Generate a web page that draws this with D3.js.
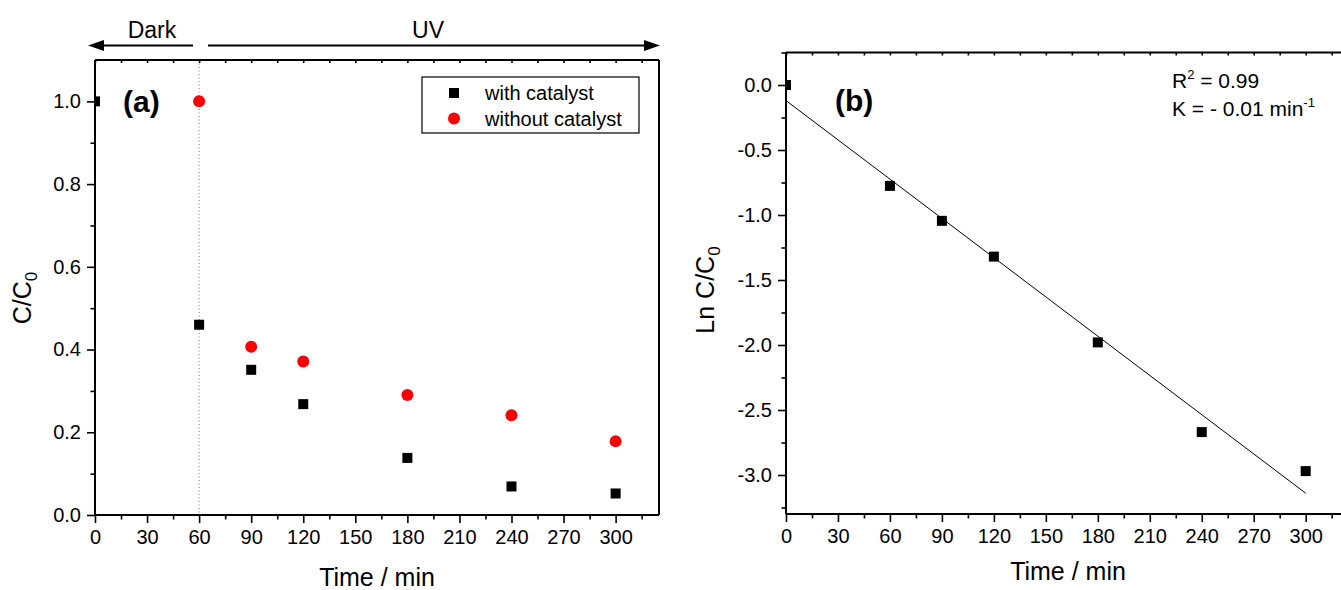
<!DOCTYPE html>
<html>
<head>
<meta charset="utf-8">
<script src="https://cdn.jsdelivr.net/npm/d3@7"></script>
<style>
  html, body { margin: 0; padding: 0; background: #fff; }
  svg { display: block; font-family: "Liberation Sans", Arial, sans-serif; }
</style>
</head>
<body>
<svg id="chart" width="1341" height="590"></svg>
<script>
// Sampling times (min)
const times = [0, 60, 90, 120, 180, 240, 300];
// Panel (a): normalised concentration C/C0
const withCatalyst = [1.0, 0.46, 0.351, 0.268, 0.138, 0.069, 0.052];
const withoutTimes = [60, 90, 120, 180, 240, 300];
const withoutCatalyst = [1.0, 0.407, 0.371, 0.290, 0.241, 0.178];
// Panel (b): ln(C/C0) for the catalysed run and its linear fit
const lnValues = [0, -0.776, -1.045, -1.32, -1.98, -2.67, -2.97];
const fitTimes = [0, 300];
const fitValues = [-0.12, -3.14];
// Tick labels
const xTicks = [0, 30, 60, 90, 120, 150, 180, 210, 240, 270, 300];
const xMinor = [15, 45, 75, 105, 135, 165, 195, 225, 255, 285, 315];
const yTicksA = [0, 0.2, 0.4, 0.6, 0.8, 1.0];
const yMinorA = [0.1, 0.3, 0.5, 0.7, 0.9];
const yTicksB = [0, -0.5, -1.0, -1.5, -2.0, -2.5, -3.0];
const yMinorB = [0.25, -0.25, -0.75, -1.25, -1.75, -2.25, -2.75, -3.25];
const legendLabels = ["with catalyst", "without catalyst"];

const svg = d3.select("#chart");
svg.append("rect").attr("width", 1341).attr("height", 590).attr("fill", "#fff");

const TICK_FONT = 20;
const MAJOR = 8, MINOR = 4.5;
// one decimal, plain hyphen for negatives
const fmtY = v => d3.format(".1f")(v).replace("\u2212", "-");

function styleAxis(g) {
  g.select(".domain").remove();
  g.selectAll(".tick line").attr("stroke", "#000").attr("stroke-width", 1.6);
  g.selectAll(".tick text").attr("font-size", TICK_FONT).attr("fill", "#000")
    .attr("font-family", "Liberation Sans, Arial, sans-serif");
}

function drawFrame(x, y, opts) {
  const [x0, x1] = x.range();
  const [y0, y1] = y.range();
  const g = svg.append("g");
  // minor ticks
  g.append("g").attr("transform", `translate(0,${y0})`)
    .call(d3.axisBottom(x).tickValues(opts.xMinor.filter(v => v <= x.domain()[1])).tickSize(MINOR).tickFormat(""))
    .call(styleAxis);
  g.append("g").attr("transform", `translate(${x0},0)`)
    .call(d3.axisLeft(y).tickValues(opts.yMinor).tickSize(MINOR).tickFormat(""))
    .call(styleAxis);
  // major ticks with labels
  g.append("g").attr("transform", `translate(0,${y0})`)
    .call(d3.axisBottom(x).tickValues(opts.xTicks).tickSize(MAJOR).tickPadding(7).tickFormat(d3.format("d")))
    .call(styleAxis);
  g.append("g").attr("transform", `translate(${x0},0)`)
    .call(d3.axisLeft(y).tickValues(opts.yTicks).tickSize(MAJOR).tickPadding(6).tickFormat(fmtY))
    .call(styleAxis);
  // top ticks (small, inward)
  g.append("g").attr("transform", `translate(0,${y1})`)
    .call(d3.axisTop(x).tickValues(opts.xTicks.concat(opts.xMinor).filter(v => v <= x.domain()[1])).tickSize(-3).tickFormat(""))
    .call(styleAxis);
  // frame lines
  const frame = g.append("g").attr("stroke", "#000").attr("stroke-width", 2).attr("fill", "none");
  frame.append("line").attr("x1", x0).attr("x2", x1).attr("y1", y0).attr("y2", y0);
  frame.append("line").attr("x1", x0).attr("x2", x0).attr("y1", y0).attr("y2", y1);
  frame.append("line").attr("x1", x0).attr("x2", x1).attr("y1", y1).attr("y2", y1);
  frame.append("line").attr("x1", x1).attr("x2", x1).attr("y1", y0).attr("y2", y1);
}

function clipFor(id, x, y) {
  const [x0, x1] = x.range();
  const [y0, y1] = y.range();
  svg.append("clipPath").attr("id", id).append("rect")
    .attr("x", x0).attr("y", y1).attr("width", x1 - x0).attr("height", y0 - y1);
  return `url(#${id})`;
}

/* ---------------- Panel (a) ---------------- */
const xA = d3.scaleLinear().domain([0, 325]).range([95, 659]);
const yA = d3.scaleLinear().domain([0, 1.1]).range([515, 60]);
const clipA = clipFor("clipA", xA, yA);

// dark / UV boundary
svg.append("line")
  .attr("x1", xA(60)).attr("x2", xA(60)).attr("y1", yA(1.1)).attr("y2", yA(0))
  .attr("stroke", "#777").attr("stroke-width", 1).attr("stroke-dasharray", "1,2.5");

drawFrame(xA, yA, { xTicks, xMinor, yTicks: yTicksA, yMinor: yMinorA });

const ptsA = svg.append("g").attr("clip-path", clipA);
ptsA.selectAll("rect.wc").data(times.map((t, i) => [t, withCatalyst[i]])).join("rect")
  .attr("x", d => xA(d[0]) - 5).attr("y", d => yA(d[1]) - 5)
  .attr("width", 10).attr("height", 10).attr("fill", "#000");
ptsA.selectAll("circle.nc").data(withoutTimes.map((t, i) => [t, withoutCatalyst[i]])).join("circle")
  .attr("cx", d => xA(d[0])).attr("cy", d => yA(d[1])).attr("r", 6).attr("fill", "#f00");

// panel tag
svg.append("text").attr("x", 123).attr("y", 112).attr("font-size", 30).attr("font-weight", "bold").text("(a)");

// legend
const leg = svg.append("g");
leg.append("rect").attr("x", 422).attr("y", 77).attr("width", 217).attr("height", 56)
  .attr("fill", "#fff").attr("stroke", "#000").attr("stroke-width", 1.2);
leg.append("rect").attr("x", 449).attr("y", 88).attr("width", 10).attr("height", 10).attr("fill", "#000");
leg.append("circle").attr("cx", 454).attr("cy", 118.5).attr("r", 6).attr("fill", "#f00");
leg.selectAll("text").data(legendLabels).join("text")
  .attr("x", 485).attr("y", (d, i) => 100 + i * 25.5).attr("font-size", 20).text(d => d);

// Dark / UV arrows
const arrows = svg.append("g").attr("stroke", "#000").attr("stroke-width", 2.2);
arrows.append("line").attr("x1", 193).attr("x2", 100).attr("y1", 45.5).attr("y2", 45.5);
arrows.append("line").attr("x1", 208).attr("x2", 648).attr("y1", 45.5).attr("y2", 45.5);
svg.append("path").attr("d", "M88,45.5 L104,40 L104,51 Z").attr("fill", "#000");
svg.append("path").attr("d", "M660,45.5 L644,40 L644,51 Z").attr("fill", "#000");
svg.append("text").attr("x", 152).attr("y", 38).attr("text-anchor", "middle").attr("font-size", 23).text("Dark");
svg.append("text").attr("x", 428).attr("y", 38).attr("text-anchor", "middle").attr("font-size", 23).text("UV");

// axis titles
svg.append("text").attr("x", 377).attr("y", 586).attr("text-anchor", "middle").attr("font-size", 25).text("Time / min");
const yTitleA = svg.append("text").attr("transform", "translate(31,298) rotate(-90)")
  .attr("text-anchor", "middle").attr("font-size", 25);
yTitleA.append("tspan").text("C/C");
yTitleA.append("tspan").attr("font-size", 17).attr("dy", 6).text("0");

/* ---------------- Panel (b) ---------------- */
const xB = d3.scaleLinear().domain([0, 325]).range([786, 1349]);
const yB = d3.scaleLinear().domain([-3.3, 0.25]).range([514, 52.5]);
const clipB = clipFor("clipB", xB, yB);

drawFrame(xB, yB, { xTicks, xMinor, yTicks: yTicksB, yMinor: yMinorB });

// linear fit
svg.append("path")
  .datum(fitTimes.map((t, i) => [t, fitValues[i]]))
  .attr("d", d3.line().x(d => xB(d[0])).y(d => yB(d[1])))
  .attr("stroke", "#000").attr("stroke-width", 1).attr("fill", "none");

const ptsB = svg.append("g").attr("clip-path", clipB);
ptsB.selectAll("rect").data(times.map((t, i) => [t, lnValues[i]])).join("rect")
  .attr("x", d => xB(d[0]) - 5).attr("y", d => yB(d[1]) - 5)
  .attr("width", 10).attr("height", 10).attr("fill", "#000");

svg.append("text").attr("x", 835).attr("y", 111).attr("font-size", 30).attr("font-weight", "bold").text("(b)");

// fit statistics
const r2 = svg.append("text").attr("x", 1172).attr("y", 88).attr("font-size", 21);
r2.append("tspan").text("R");
r2.append("tspan").attr("font-size", 13).attr("dy", -9).text("2");
r2.append("tspan").attr("dy", 9).text(" = 0.99");
const kt = svg.append("text").attr("x", 1172).attr("y", 116).attr("font-size", 21);
kt.append("tspan").text("K = - 0.01 min");
kt.append("tspan").attr("font-size", 13).attr("dy", -9).text("-1");

svg.append("text").attr("x", 1068).attr("y", 580).attr("text-anchor", "middle").attr("font-size", 25).text("Time / min");
const yTitleB = svg.append("text").attr("transform", "translate(714,290) rotate(-90)")
  .attr("text-anchor", "middle").attr("font-size", 25);
yTitleB.append("tspan").text("Ln C/C");
yTitleB.append("tspan").attr("font-size", 17).attr("dy", 6).text("0");
</script>
</body>
</html>
